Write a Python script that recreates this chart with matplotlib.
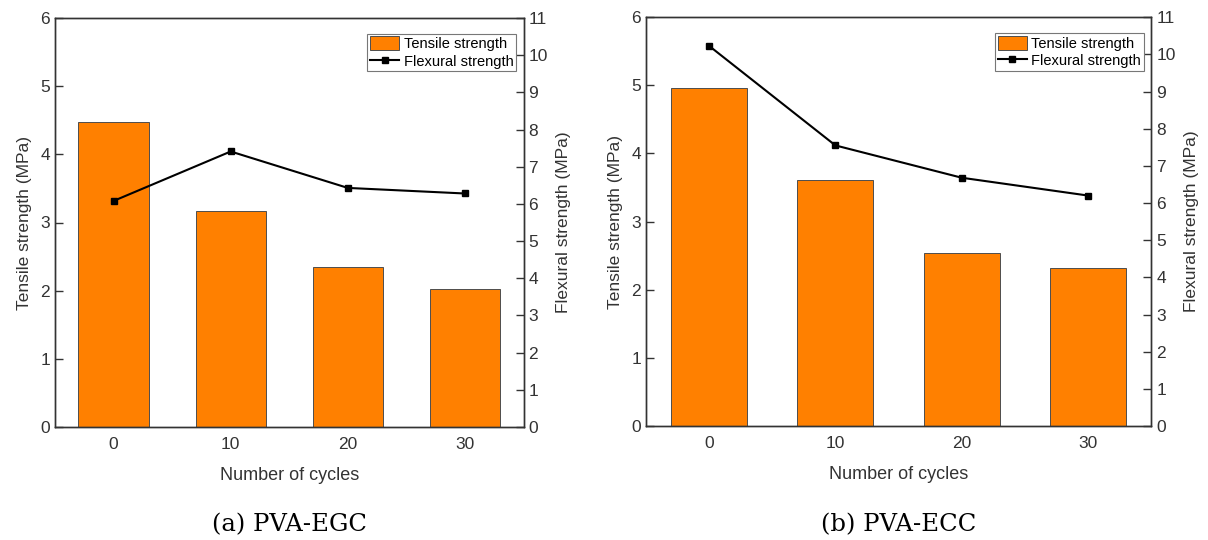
import matplotlib
matplotlib.use("Agg")
import matplotlib.pyplot as plt
import numpy as np

cycles = ["0", "10", "20", "30"]
egc_tensile = [4.48, 3.17, 2.35, 2.03]
egc_flexural = [6.08, 7.41, 6.43, 6.28]
ecc_tensile = [4.96, 3.61, 2.54, 2.32]
ecc_flexural = [10.23, 7.55, 6.68, 6.20]
captions = ["(a) PVA-EGC", "(b) PVA-ECC"]

plt.rcParams['font.family'] = ['Liberation Sans', 'DejaVu Sans']

W, H = 1208, 540
fig = plt.figure(figsize=(W / 100, H / 100), dpi=100)

ORANGE = '#FF8000'


def px_axes(x0, y_top, x1, y_bot):
    return fig.add_axes([x0 / W, (H - y_bot) / H, (x1 - x0) / W, (y_bot - y_top) / H])


panels = [
    (px_axes(55, 18, 523.5, 427), egc_tensile, egc_flexural, captions[0]),
    (px_axes(645.8, 17.2, 1151.4, 426), ecc_tensile, ecc_flexural, captions[1]),
]

for ax, tens, flex, cap in panels:
    x = np.arange(len(cycles))
    bars = ax.bar(x, tens, width=0.6, color=ORANGE, edgecolor='#4d4d4d', linewidth=0.7,
                  label='Tensile strength', zorder=2)
    ax.set_xlim(-0.5, len(cycles) - 0.5)
    ax.set_ylim(0, 6)
    ax.set_xticks(x)
    ax.set_xticklabels(cycles)
    ax.set_yticks(range(0, 7))
    ax.tick_params(axis='both', direction='in', length=6, width=1, labelsize=12.5,
                   colors='#333333', labelcolor='#333333')
    ax.tick_params(axis='x', pad=7)
    for s in ax.spines.values():
        s.set_color('#333333')
        s.set_linewidth(1.0)
    ax.set_xlabel('Number of cycles', fontsize=13, color='#333333', labelpad=11)
    ax.set_ylabel('Tensile strength (MPa)', fontsize=12.5, color='#333333', labelpad=6)

    ax2 = ax.twinx()
    line, = ax2.plot(x, flex, color='black', linewidth=1.5, marker='s', markersize=5,
                     label='Flexural strength', zorder=3)
    ax2.set_ylim(0, 11)
    ax2.set_yticks(range(0, 12))
    ax2.tick_params(axis='y', direction='in', length=6, width=1, labelsize=12.5,
                    colors='#333333', labelcolor='#333333')
    for s in ax2.spines.values():
        s.set_color('#333333')
        s.set_linewidth(1.0)
    ax2.set_ylabel('Flexural strength (MPa)', fontsize=12.5, color='#333333', labelpad=6)

    leg = ax2.legend([bars, line], ['Tensile strength', 'Flexural strength'],
                     loc='upper right', bbox_to_anchor=(0.985, 0.962), fontsize=10.5,
                     frameon=True, fancybox=False, edgecolor='#777777', framealpha=1,
                     borderpad=0.2, handlelength=2.0, handleheight=1.1, handletextpad=0.3,
                     labelspacing=0.15, borderaxespad=0)
    leg.get_frame().set_linewidth(0.8)

    bb = ax.get_position()
    cx = (bb.x0 + bb.x1) / 2
    fig.text(cx, 1 - 525 / H, cap, ha='center', va='center', fontsize=17.5,
             family=['DejaVu Serif'], color='black')

fig.savefig('out.png', dpi=100)
